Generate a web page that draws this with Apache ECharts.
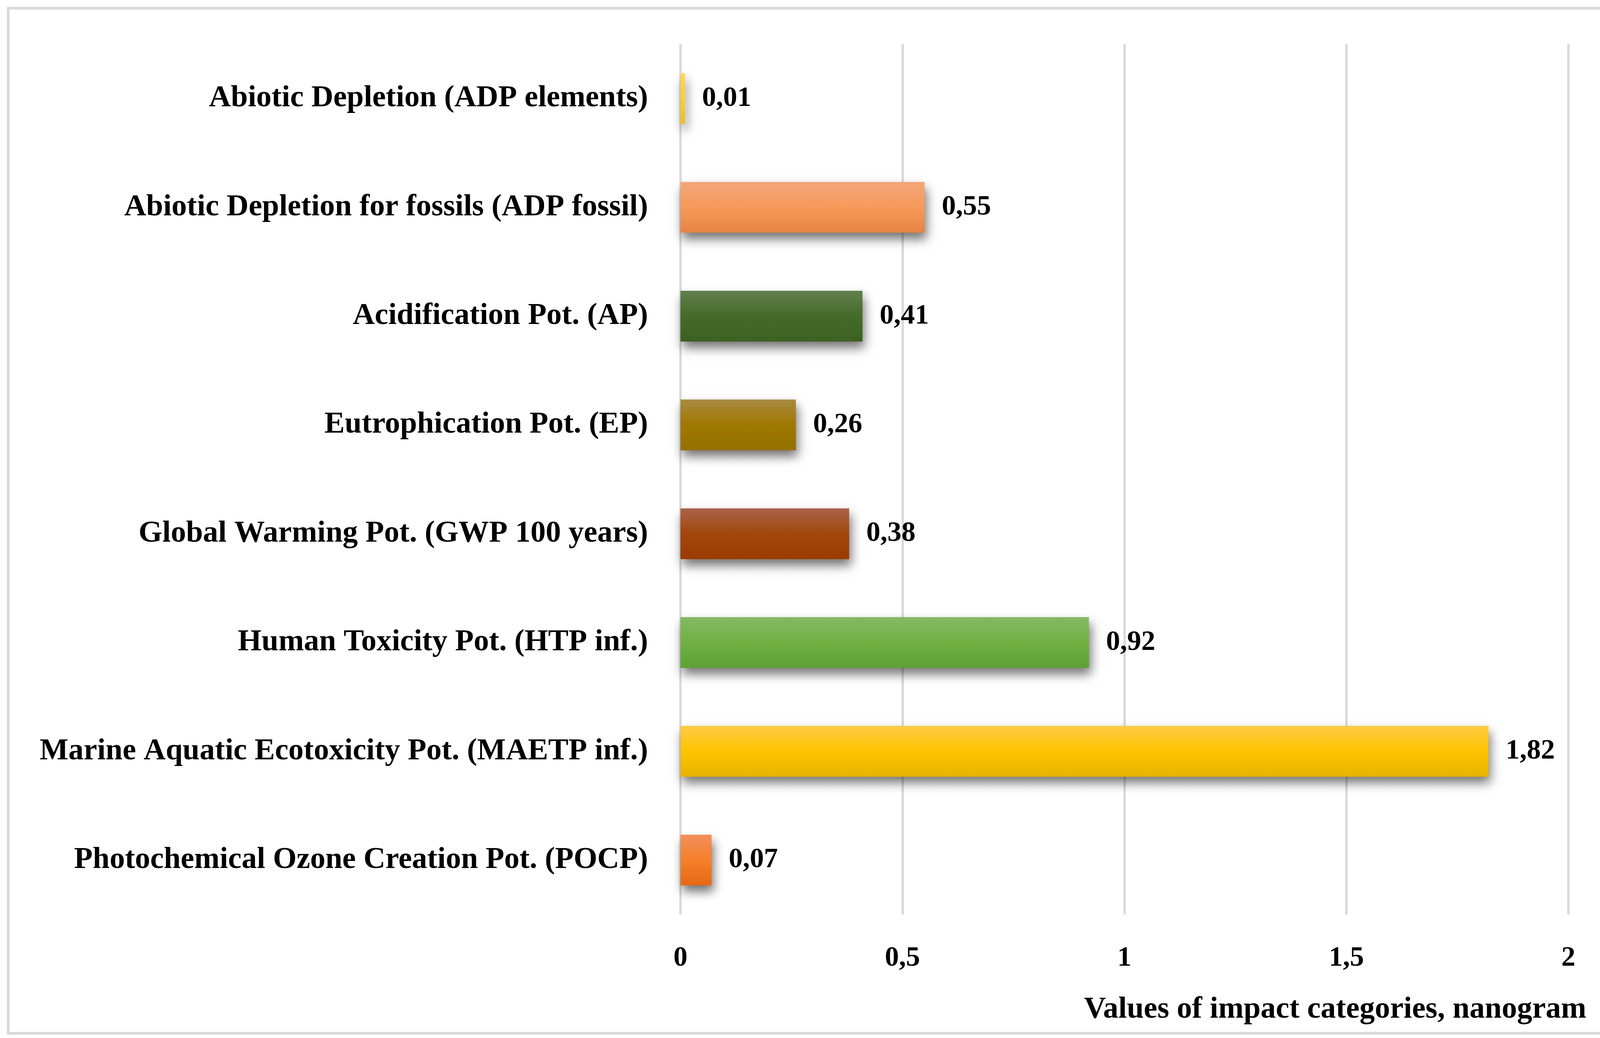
<!DOCTYPE html>
<html>
<head>
<meta charset="utf-8">
<script src="https://cdn.jsdelivr.net/npm/echarts@6/dist/echarts.min.js"></script>
<style>
html,body{margin:0;padding:0;background:#fff;}
#chart{width:4208px;height:2656px;}
</style>
</head>
<body>
<div id="chart"></div>
<script>
var categories = [
  "Abiotic Depletion (ADP elements)",
  "Abiotic Depletion for fossils (ADP fossil)",
  "Acidification Pot. (AP)",
  "Eutrophication Pot. (EP)",
  "Global Warming Pot. (GWP 100 years)",
  "Human Toxicity Pot. (HTP inf.)",
  "Marine Aquatic Ecotoxicity Pot. (MAETP inf.)",
  "Photochemical Ozone Creation Pot. (POCP)"
];
var values = [0.01, 0.55, 0.41, 0.26, 0.38, 0.92, 1.82, 0.07];
// gradient colors per bar: [top, middle, bottom]
var barColors = [
  ["#ffd65a", "#ffcf2e", "#e9c020"],
  ["#f3a77a", "#f69a5a", "#e68343"],
  ["#62804f", "#446b29", "#3c6122"],
  ["#a98a42", "#a07800", "#947000"],
  ["#ab624a", "#a2470c", "#9a3b00"],
  ["#84b964", "#70b142", "#5fa034"],
  ["#ffca45", "#ffc400", "#e8b300"],
  ["#f1905c", "#f57f2a", "#e46917"]
];
var xTicks = {min: 0, max: 2, interval: 0.5};
var xAxisName = "Values of impact categories, nanogram";

function comma(v) { return String(v).replace('.', ','); }

var chart = echarts.init(document.getElementById('chart'), null, {renderer: 'canvas'});
var fontFamily = '"Liberation Serif", "Times New Roman", serif';

var data = values.map(function (v, i) {
  var c = barColors[i];
  return {
    value: v,
    itemStyle: {
      color: new echarts.graphic.LinearGradient(0, 0, 0, 1, [
        {offset: 0, color: c[0]},
        {offset: 0.5, color: c[1]},
        {offset: 1, color: c[2]}
      ]),
      shadowColor: 'rgba(0,0,0,0.55)',
      shadowBlur: 26,
      shadowOffsetX: 5,
      shadowOffsetY: 16
    }
  };
});

chart.setOption({
  backgroundColor: '#ffffff',
  animation: false,
  graphic: [{
    type: 'rect',
    shape: {x: 21, y: 21, width: 4166, height: 2623},
    style: {fill: 'none', stroke: '#d9d9d9', lineWidth: 7},
    z: 0
  }],
  grid: {left: 1742, right: 193, top: 113, bottom: 316, containLabel: false},
  xAxis: {
    type: 'value',
    min: xTicks.min,
    max: xTicks.max,
    interval: xTicks.interval,
    axisLine: {show: false},
    axisTick: {show: false},
    splitLine: {show: true, lineStyle: {color: '#d9d9d9', width: 6}},
    axisLabel: {
      margin: 76,
      color: '#000',
      fontFamily: fontFamily,
      fontWeight: 'bold',
      fontSize: 72,
      formatter: function (v) { return comma(v); }
    },
    name: xAxisName,
    nameLocation: 'end',
    nameGap: 46,
    nameTextStyle: {
      color: '#000',
      fontFamily: fontFamily,
      fontWeight: 'bold',
      fontSize: 78,
      align: 'right',
      verticalAlign: 'top',
      padding: [205, 0, 0, 0]
    }
  },
  yAxis: {
    type: 'category',
    data: categories,
    inverse: true,
    axisLine: {show: false},
    axisTick: {show: false},
    splitLine: {show: false},
    axisLabel: {
      margin: 83,
      color: '#000',
      fontFamily: fontFamily,
      fontWeight: 'bold',
      fontSize: 78
    }
  },
  series: [{
    type: 'bar',
    data: data,
    barWidth: 130,
    label: {
      show: true,
      position: 'right',
      distance: 44,
      color: '#000',
      fontFamily: fontFamily,
      fontWeight: 'bold',
      fontSize: 72,
      formatter: function (p) { return comma(p.value); }
    }
  }]
});
</script>
</body>
</html>
